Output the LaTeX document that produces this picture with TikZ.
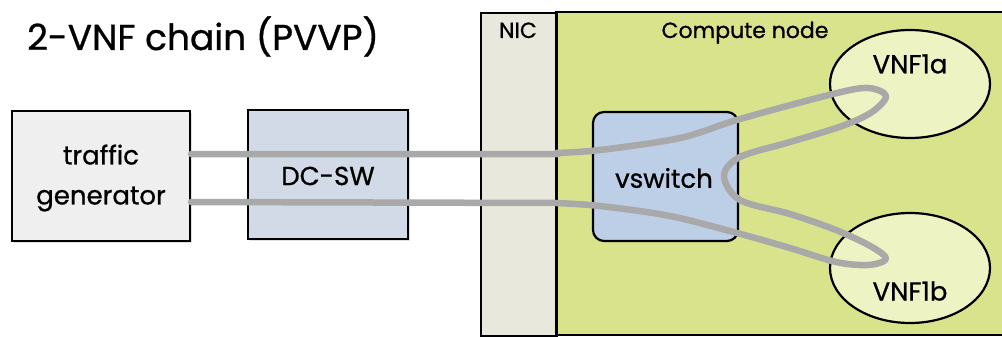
\documentclass[tikz,border=0pt]{standalone}
\usepackage{fontspec}
\setmainfont{Poppins}[FakeBold=0.8]
\usetikzlibrary{shapes.geometric,shadows}
\definecolor{tgfill}{HTML}{EFEFEF}
\definecolor{swfill}{HTML}{D2DAE7}
\definecolor{nicfill}{HTML}{E9E8DC}
\definecolor{cnfill}{HTML}{D9E38C}
\definecolor{vsfill}{HTML}{BCCFE7}
\definecolor{vnffill}{HTML}{EDF3C2}
\definecolor{wire}{HTML}{A9A9A9}
\tikzset{
  box/.style={draw=black, line width=2.2pt, inner sep=0pt, drop shadow={shadow xshift=1.5pt, shadow yshift=-2pt, opacity=0.25}},
  lbl/.style={font=\fontsize{26}{40}\selectfont, align=center, inner sep=0pt},
  small/.style={font=\fontsize{22}{26}\selectfont, inner sep=0pt},
  vnf/.style={ellipse, draw=black, line width=2.2pt, fill=vnffill, inner sep=0pt},
  wirestyle/.style={draw=wire, line width=6.5pt, line cap=round, line join=round}
}
\begin{document}
\begin{tikzpicture}[x=1pt,y=-1pt]
\useasboundingbox (0,0) rectangle (1002,337);
\fill[white] (0,0) rectangle (1002,337);
% title
\node[anchor=base west, inner sep=0pt, font=\fontsize{36}{40}\selectfont] (title) at (27,50) {2-VNF chain (PVVP)};
% compute node and NIC
\fill[cnfill] (556,12) rectangle (1002,335);
\node[draw=black, line width=2.2pt, fill=nicfill, minimum width=76pt, minimum height=323pt, inner sep=0pt, anchor=north west] (nic) at (480,12) {};
\draw[line width=2.2pt] (1003,12) -- (556,12) -- (556,335) -- (1003,335);
\node[small, anchor=base] (niclbl) at (518,38) {NIC};
\node[small, anchor=base] (cnlbl) at (745,38) {Compute node};
% boxes
\node[box, fill=tgfill, minimum width=178pt, minimum height=130pt] (tg) at (101,176) {};
\node[lbl] (tgtext) at (101,178) {traffic\\generator};
\node[box, fill=swfill, minimum width=160pt, minimum height=129pt] (dcsw) at (328,174.5) {};
\node[lbl] (dcswtext) at (328,176) {DC-SW};
\node[draw=black, line width=2.2pt, fill=vsfill, rounded corners=11pt, minimum width=145pt, minimum height=129pt, inner sep=0pt] (vs) at (665.5,176.5) {};
\node[lbl] (vstext) at (664,178) {vswitch};
% VNFs
\node[vnf, minimum width=160pt, minimum height=108pt] (vnfa) at (910,84) {};
\node[lbl] (vnfatext) at (910,64) {VNF1a};
\node[vnf, minimum width=160pt, minimum height=110pt] (vnfb) at (910,268) {};
\node[lbl] (vnfbtext) at (910,291) {VNF1b};
% wire
\coordinate (up) at (0,154);
\coordinate (lo) at (0,202);
\draw[wirestyle] (tg.east |- up) -- (nic.east |- up)
  plot[smooth, tension=0.55] coordinates {(556,153) (600,150) (680,138) (740,119) (833,94) (868,88) (886,96) (872,112) (842,126) (790,142) (740,157) (724,176) (740,200) (790,214) (836,230) (872,247) (886,259) (868,265) (836,262) (790,248) (737,233) (670,216) (600,206) (556,203)}
  -- (tg.east |- lo);
\end{tikzpicture}
\end{document}
